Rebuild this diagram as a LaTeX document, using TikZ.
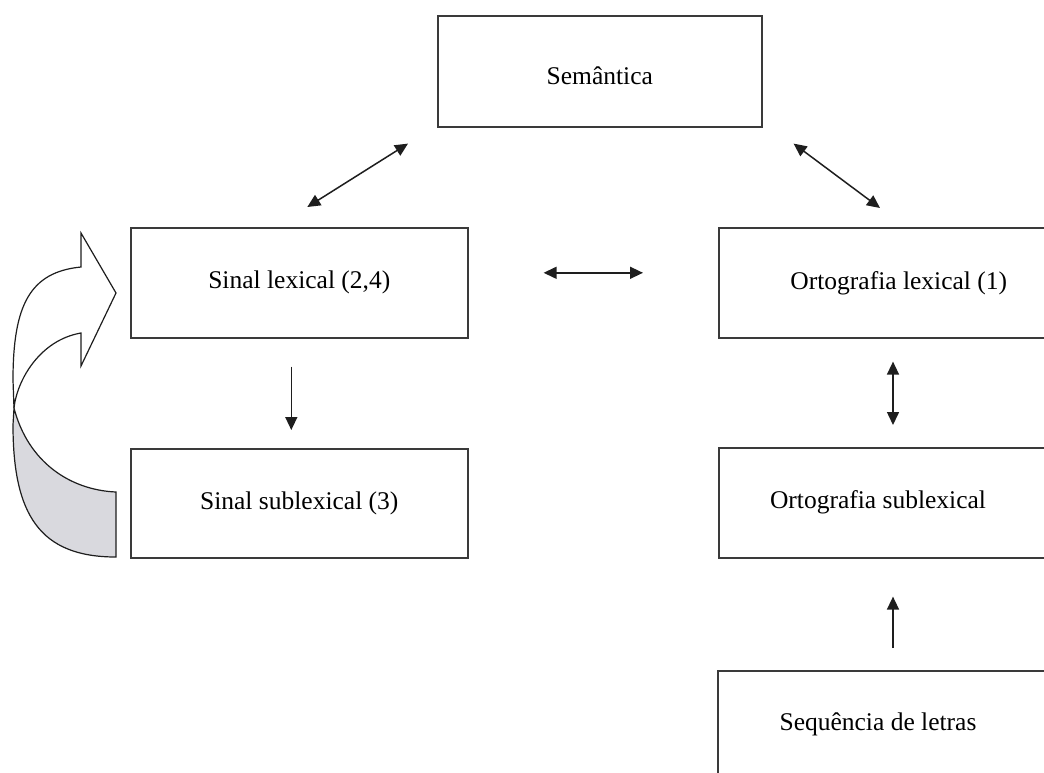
\documentclass[tikz,border=0pt]{standalone}
\usepackage{fontspec}
\setmainfont{Liberation Serif}
\usetikzlibrary{arrows.meta,calc}
\definecolor{boxline}{HTML}{3A3A3A}
\definecolor{ink}{HTML}{1E1E1E}
\definecolor{ribbon}{HTML}{D9D9DE}
\begin{document}
\begin{tikzpicture}[x=1pt,y=-1pt,
  box/.style={draw=boxline, line width=1.6pt, rectangle, inner sep=0pt,
    anchor=north west, font=\fontsize{25.5}{30}\selectfont},
  txt/.style={inner sep=0pt, font=\fontsize{25.5}{30}\selectfont},
  link/.style={draw=ink, line width=1.5pt},
  tip/.style={-{Triangle[length=13pt,width=12pt]}},
  tips/.style={{Triangle[length=13pt,width=12pt]}-{Triangle[length=13pt,width=12pt]}},
  band/.style={draw=ink, line width=1.2pt, line join=miter}]
\useasboundingbox (0,0) rectangle (1044,772);
\clip (0,0) rectangle (1044,772);

% boxes
\node[box, minimum width=324pt, minimum height=111pt, text height=27pt] (sem) at (437,15) {Semântica};
\node[box, minimum width=337pt, minimum height=110pt] (slex) at (130,227) {Sinal lexical (2,4)};
\node[box, minimum width=337pt, minimum height=109pt] (ssub) at (130,448) {Sinal sublexical (3)};
\node[box, minimum width=360pt, minimum height=110pt] (olex) at (718,227) {Ortografia lexical (1)};
\node[box, minimum width=400pt, minimum height=110pt] (osub) at (718,447) {};
\node[txt] (osubt) at (878,502) {Ortografia sublexical};
\node[box, minimum width=400pt, minimum height=150pt] (seq) at (717,670) {};
\node[txt] (seqt) at (878,724) {Sequência de letras};

% connector end points, set off from the boxes
\coordinate (a1) at ($(sem.south west)+(-29,16)$);
\coordinate (b1) at ($(slex.north)+(8,-20)$);
\coordinate (a2) at ($(sem.south east)+(31,16)$);
\coordinate (b2) at ($(olex.north west)+(162,-19)$);
\coordinate (a3) at ($(slex.east)+(75,-10)$);
\coordinate (b3) at ($(olex.west)+(-75,-10)$);
\coordinate (a4) at ($(slex.south)+(-8,28)$);
\coordinate (b4) at ($(ssub.north)+(-8,-18)$);
\coordinate (a5) at ($(olex.south west)+(175,23)$);
\coordinate (b5) at ($(osub.north west)+(175,-22)$);
\coordinate (a6) at ($(seq.north west)+(176,-22)$);
\coordinate (b6) at ($(osub.south west)+(175,38)$);

% connectors
\draw[link, tips] (b1) -- (a1);
\draw[link, tips] (a2) -- (b2);
\draw[link, tips] (a3) -- (b3);
\draw[link, tip] (a4) -- (b4);
\draw[link, tips] (a5) -- (b5);
\draw[link, tip] (a6) -- (b6);

% curved loop arrow from the sublexical back to the lexical signal
\coordinate (lp) at (14,408);
\filldraw[band, fill=ribbon] (lp) .. controls (28,462) and (70,490) .. (116,492)
  -- (116,557) .. controls (40,557) and (13,515) .. (13,425)
  -- (lp) -- cycle;
\filldraw[band, fill=white] (lp) .. controls (17,380) and (40,340) .. (81,333)
  -- (81,366) -- (116,293) -- (81,233) -- (81,267)
  .. controls (30,272) and (13,305) .. (13,380) -- (lp) -- cycle;
\end{tikzpicture}
\end{document}
